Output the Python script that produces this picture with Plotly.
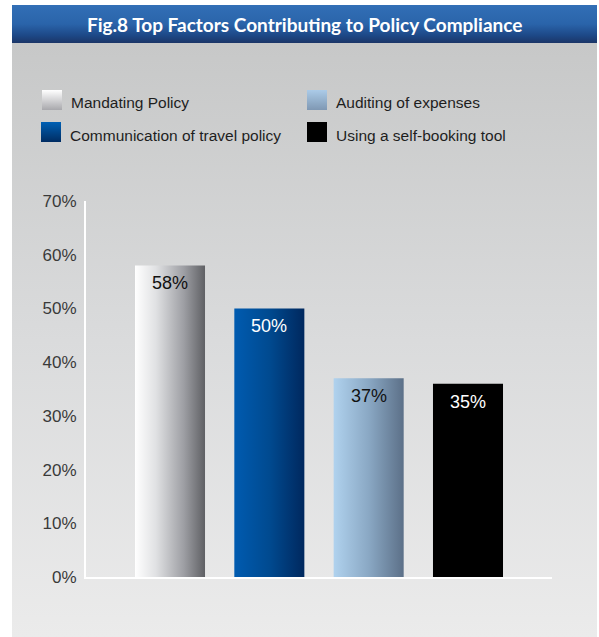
import base64
import plotly.graph_objects as go

# ---------------- data ----------------
categories = ["Mandating Policy", "Communication of travel policy",
              "Auditing of expenses", "Using a self-booking tool"]
values = [58, 50, 37, 36]
value_labels = ["58%", "50%", "37%", "35%"]
label_colors = ["#111111", "#ffffff", "#111111", "#ffffff"]
y_tick_vals = [0, 10, 20, 30, 40, 50, 60, 70]
y_tick_text = ["0%", "10%", "20%", "30%", "40%", "50%", "60%", "70%"]
title_text = "Fig.8 Top Factors Contributing to Policy Compliance"

bar_gradients = [
    [[0, "#ffffff"], [0.3, "#e0e1e3"], [0.7, "#9d9ea3"], [1, "#5f6064"]],
    [[0, "#005bb0"], [0.5, "#004a90"], [1, "#00285e"]],
    [[0, "#b0d2ee"], [0.5, "#8aa8c4"], [1, "#5c7088"]],
    [[0, "#000000"], [1, "#000000"]],
]
swatch_gradients = [("#ffffff", "#a8a8ac"), ("#0060b4", "#002c62"),
                     ("#abcbe8", "#7f98b3"), ("#000000", "#000000")]

# ---------------- layout geometry ----------------
W, H = 599, 637
L, R, T, B = 86, 47, 201, 60
PW, PH = W - L - R, H - T - B
bar_width = 0.705
x_range = [-0.8457, 3.8457]


def px(x):
    return (x - L) / PW


def py(y):
    return 1 - (y - T) / PH


def data_uri(svg):
    return "data:image/svg+xml;base64," + base64.b64encode(svg.encode()).decode()


bg_svg = f"""<svg xmlns='http://www.w3.org/2000/svg' width='{W}' height='{H}' viewBox='0 0 {W} {H}' preserveAspectRatio='none'>
<defs>
<linearGradient id='tb' x1='0' y1='0' x2='0' y2='1'>
<stop offset='0' stop-color='#326fb6'/><stop offset='0.5' stop-color='#2a64aa'/>
<stop offset='0.8' stop-color='#1d4887'/><stop offset='1' stop-color='#1b3567'/></linearGradient>
<linearGradient id='pn' x1='0' y1='0' x2='0' y2='1'>
<stop offset='0' stop-color='#c7c8c8'/><stop offset='0.5' stop-color='#dadbdc'/>
<stop offset='1' stop-color='#ebebeb'/></linearGradient>
</defs>
<rect x='0' y='0' width='{W}' height='{H}' fill='#ffffff'/>
<rect x='12' y='5' width='585' height='38' fill='url(#tb)'/>
<rect x='12' y='43' width='585' height='{H-43}' fill='url(#pn)'/>
</svg>"""

images = [dict(source=data_uri(bg_svg), xref="paper", yref="paper",
               x=px(0), y=py(0), sizex=W / PW, sizey=H / PH,
               xanchor="left", yanchor="top", sizing="stretch", layer="below")]

fig = go.Figure()

for i, (cat, v, grad) in enumerate(zip(categories, values, bar_gradients)):
    x0, x1 = i - bar_width / 2, i + bar_width / 2
    fig.add_trace(go.Scatter(
        x=[x0, x1, x1, x0, x0], y=[0, 0, v, v, 0],
        mode="lines", line=dict(width=0), fill="toself",
        fillgradient=dict(type="horizontal", colorscale=grad),
        name=cat, showlegend=False, hoverinfo="skip"))

annotations = []
for i, (v, lab, col) in enumerate(zip(values, value_labels, label_colors)):
    annotations.append(dict(x=i, y=v, xref="x", yref="y", text=lab,
                            showarrow=False, yanchor="top", yshift=-6,
                            font=dict(family="Liberation Sans, Arial, sans-serif",
                                      size=18, color=col)))

# title
annotations.append(dict(x=px(304), y=py(24), xref="paper", yref="paper",
                        text="<b>" + title_text + "</b>", showarrow=False,
                        xanchor="center", yanchor="middle",
                        font=dict(family="Lato, sans-serif", size=19, color="#ffffff")))

# legend (manual, two columns)
legend_pos = [(42, 90), (41, 122), (307, 90), (307, 122)]
for cat, (sx, sy), (c0, c1) in zip(categories, legend_pos, swatch_gradients):
    sw = f"""<svg xmlns='http://www.w3.org/2000/svg' width='20' height='20' viewBox='0 0 20 20' preserveAspectRatio='none'>
<defs><linearGradient id='g' x1='0' y1='0' x2='0' y2='1'>
<stop offset='0' stop-color='{c0}'/><stop offset='1' stop-color='{c1}'/></linearGradient></defs>
<rect x='0' y='0' width='20' height='20' fill='url(#g)'/></svg>"""
    images.append(dict(source=data_uri(sw), xref="paper", yref="paper",
                       x=px(sx), y=py(sy), sizex=20 / PW, sizey=20 / PH,
                       xanchor="left", yanchor="top", sizing="stretch", layer="above"))
    annotations.append(dict(x=px(sx + 27), y=py(sy + 13), xref="paper", yref="paper",
                            text=cat, showarrow=False, xanchor="left", yanchor="middle",
                            font=dict(family="Liberation Sans, Arial, sans-serif",
                                      size=15.5, color="#1e1e1e")))

fig.update_layout(
    width=W, height=H,
    margin=dict(l=L, r=R, t=T, b=B, pad=0),
    paper_bgcolor="#ffffff", plot_bgcolor="rgba(0,0,0,0)",
    showlegend=False,
    images=images, annotations=annotations,
    xaxis=dict(range=x_range, showgrid=False, zeroline=False, showticklabels=False,
               showline=True, linecolor="#ffffff", linewidth=2, ticks="", fixedrange=True),
    yaxis=dict(range=[0, 70], showgrid=False, zeroline=False, showline=True,
               linecolor="#ffffff", linewidth=2, tickvals=y_tick_vals, ticktext=y_tick_text,
               ticks="outside", ticklen=4, tickcolor="rgba(0,0,0,0)",
               tickfont=dict(family="Liberation Sans, Arial, sans-serif", size=17, color="#3a3a3a")),
)

fig.write_html("out.html")
